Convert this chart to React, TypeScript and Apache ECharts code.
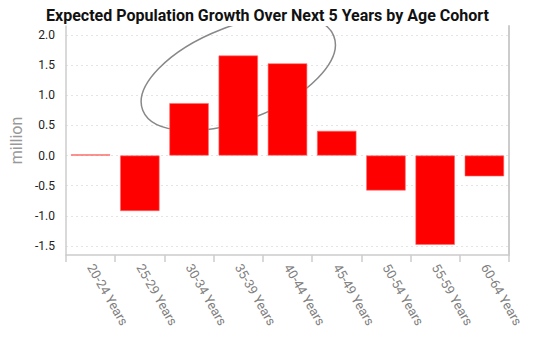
import React, { useEffect, useRef } from "react";
import * as echarts from "echarts";

const categories = [
  "20-24 Years",
  "25-29 Years",
  "30-34 Years",
  "35-39 Years",
  "40-44 Years",
  "45-49 Years",
  "50-54 Years",
  "55-59 Years",
  "60-64 Years",
];
const growthMillions = [0.02, -0.92, 0.87, 1.66, 1.53, 0.41, -0.58, -1.48, -0.345];
const yTickValues = [-1.5, -1, -0.5, 0, 0.5, 1, 1.5, 2];
// annotation ellipse: centre in data space (category index, value)
const ellipseCenter = [[2.96, 1.366]];

export default function App() {
  const ref = useRef<HTMLDivElement>(null);
  useEffect(() => {
    if (!ref.current) return;
    const chart = echarts.init(ref.current, undefined, { renderer: "svg" });
    chart.setOption({
      animation: false,
      textStyle: { fontFamily: "Roboto" },
      title: {
        text: "Expected Population Growth Over Next 5 Years by Age Cohort",
        left: "center",
        top: 2,
        textStyle: { fontFamily: "Roboto", fontWeight: "bold", fontSize: 16, color: "#111" },
      },
      grid: { left: 66, right: 26, top: 26, bottom: 96, containLabel: false },
      xAxis: {
        type: "category",
        data: categories,
        boundaryGap: true,
        axisLine: { onZero: false, lineStyle: { color: "#ccc", width: 1.5 } },
        axisTick: { show: true, length: 7, lineStyle: { color: "#ccc", width: 1.5 } },
        axisLabel: { rotate: -60, color: "#808080", fontSize: 13, margin: 10, interval: 0 },
      },
      yAxis: [
        {
          type: "value",
          min: -1.65,
          max: 2.15,
          name: "million",
          nameLocation: "middle",
          nameGap: 38,
          nameTextStyle: { color: "#999", fontSize: 16 },
          axisLine: { show: true, lineStyle: { color: "#ccc", width: 1.5 } },
          axisTick: { show: false, customValues: yTickValues },
          axisLabel: {
            customValues: yTickValues,
            color: "#222",
            fontSize: 12,
            margin: 11,
            formatter: (v: number) => v.toFixed(1),
          },
          splitLine: { show: true, lineStyle: { color: "#e4e4e4", type: [2, 3], width: 1 } },
        },
        {
          type: "value",
          min: -1.65,
          max: 2.15,
          position: "right",
          axisLine: { show: true, lineStyle: { color: "#ccc", width: 2 } },
          axisTick: { show: false },
          axisLabel: { show: false },
          splitLine: { show: false },
        },
      ],
      series: [
        {
          type: "bar",
          data: growthMillions,
          barCategoryGap: "20%",
          itemStyle: { color: "#ff0000", borderColor: "#ff6b6b", borderWidth: 0.6 },
        },
        {
          type: "custom",
          clip: true,
          data: ellipseCenter,
          renderItem: (params: any, api: any) => {
            const c = api.coord([api.value(0), api.value(1)]);
            return {
              type: "ellipse",
              x: c[0],
              y: c[1],
              rotation: (21.2 * Math.PI) / 180,
              shape: { cx: 0, cy: 0, rx: 102.5, ry: 47 },
              style: { fill: "none", stroke: "#888", lineWidth: 1.5 },
              silent: true,
            };
          },
        },
      ],
    });
    return () => chart.dispose();
  }, []);
  return <div ref={ref} style={{ width: 535, height: 351, marginLeft: -8, marginTop: -8 }} />;
}
